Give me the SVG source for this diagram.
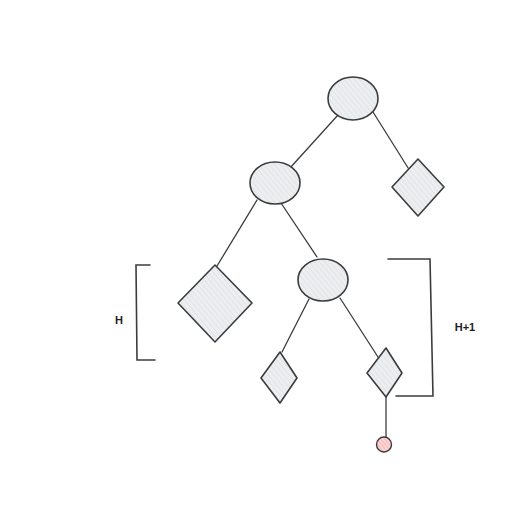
<svg xmlns="http://www.w3.org/2000/svg" width="507" height="516" viewBox="0 0 507 516">
<defs>
<pattern id="hatch" patternUnits="userSpaceOnUse" width="4" height="4" patternTransform="rotate(-40)">
<rect width="4" height="4" fill="#eceef0"/>
<line x1="0" y1="0" x2="0" y2="4" stroke="#d6d9dc" stroke-width="1"/>
</pattern>
<pattern id="hatchRed" patternUnits="userSpaceOnUse" width="3" height="3" patternTransform="rotate(-40)">
<rect width="3" height="3" fill="#ffd6d6"/>
<line x1="0" y1="0" x2="0" y2="3" stroke="#f4a3a3" stroke-width="1.2"/>
</pattern>
</defs>
<style>
.n{fill:url(#hatch);stroke:#3a3d40;stroke-width:1.6;stroke-linejoin:round}
.e{stroke:#3a3d40;stroke-width:1.3;fill:none;stroke-linecap:round}
.b{stroke:#3a3d40;stroke-width:1.6;fill:none;stroke-linecap:round}
.t{font-family:"Liberation Sans",Arial,sans-serif;font-size:11px;font-weight:bold;fill:#1e1e1e}
</style>
<rect width="507" height="516" fill="#ffffff"/>
<g id="connectors">
<line class="e" x1="338" y1="115" x2="290" y2="168"/>
<line class="e" x1="373" y1="112" x2="410" y2="171"/>
<line class="e" x1="257" y1="200" x2="217" y2="266"/>
<line class="e" x1="277" y1="197" x2="317" y2="257"/>
<line class="e" x1="309" y1="299" x2="282" y2="352"/>
<line class="e" x1="340" y1="298" x2="378" y2="357"/>
<line class="e" x1="386" y1="397" x2="386" y2="437"/>
</g>
<g id="root"><ellipse class="n" cx="353" cy="98.5" rx="25" ry="21.5"/></g>
<g id="leftNode"><ellipse class="n" cx="275" cy="183" rx="25" ry="21"/></g>
<g id="rightLeaf"><polygon class="n" points="418,159 444,187 418,216 392,187"/></g>
<g id="bigLeaf"><polygon class="n" points="215,265 252,303 215,342 178,303"/></g>
<g id="midNode"><ellipse class="n" cx="323" cy="280" rx="25" ry="21"/></g>
<g id="smallLeafLeft"><polygon class="n" points="280,352 297,378 280,403 261,378"/></g>
<g id="smallLeafRight"><polygon class="n" points="386,348 402,373 386,397 367,373"/></g>
<g id="redNode"><circle cx="384" cy="444.5" r="7.5" fill="url(#hatchRed)" stroke="#3a3d40" stroke-width="1.4"/></g>
<g id="bracketH">
<polyline class="b" points="150,265 136,265 137,360 155,360"/>
<text class="t" x="119" y="324" text-anchor="middle">H</text>
</g>
<g id="bracketH1">
<polyline class="b" points="388,259 430,259 433,396 396,396"/>
<text class="t" x="465" y="331" text-anchor="middle">H+1</text>
</g>
</svg>
